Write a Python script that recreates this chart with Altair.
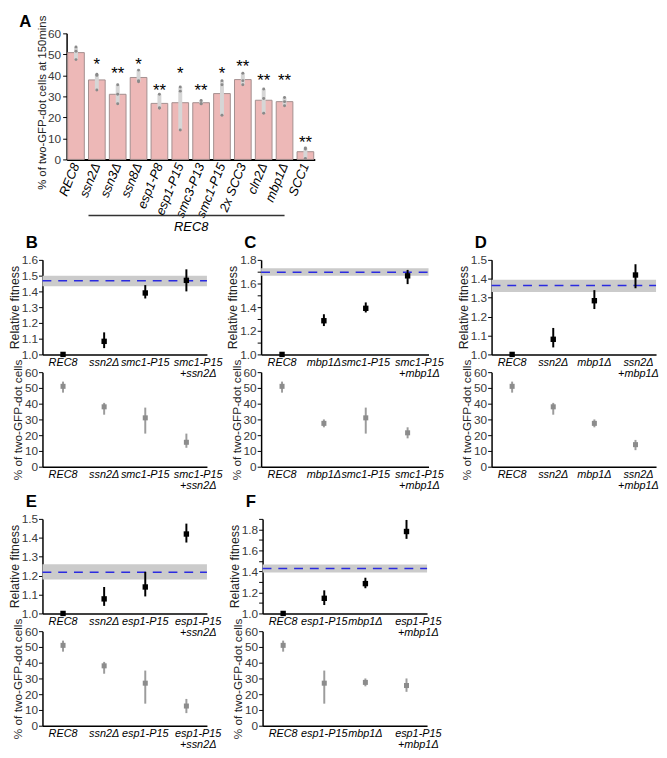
import altair as alt
import pandas as pd

FONT = "Liberation Sans"

# ---------------- Panel A data ----------------
a_strains = ["REC8", "ssn2Δ", "ssn3Δ", "ssn8Δ", "esp1-P8", "esp1-P15", "smc3-P13",
             "smc1-P15", "2x SCC3", "cln2Δ", "mbp1Δ", "SCC1"]
a_rep1 = [53.5, 40.5, 35.5, 42.5, 31.0, 34.5, 28.0, 37.5, 41.0, 33.5, 29.5, 5.5]
a_rep2 = [51.5, 40.0, 31.0, 37.5, 24.5, 32.5, 26.5, 35.5, 37.5, 29.0, 27.5, 5.0]
a_rep3 = [47.5, 33.0, 26.5, 37.0, 24.5, 14.0, 26.5, 21.0, 35.5, 22.0, 25.5, 0.5]
a_stars = ["", "*", "**", "*", "**", "*", "**", "*", "**", "**", "**", "**"]
a_star_level = [0, 47.0, 42.5, 47.0, 34.5, 42.5, 34.5, 42.5, 46.0, 39.0, 39.0, 9.5]

# ---------------- Panels B-F data ----------------
b_strains = ["REC8", "ssn2Δ", "smc1-P15", "smc1-P15|+ssn2Δ"]
b_fit = [1.0, 1.083, 1.39, 1.47]
b_fit_lo = [1.0, 1.04, 1.355, 1.40]
b_fit_hi = [1.0, 1.14, 1.44, 1.54]
b_expected = [1.467, 1.433, 1.50]
b_pct = [51.0, 38.0, 31.0, 15.5]
b_pct_lo = [47.0, 33.0, 21.0, 12.0]
b_pct_hi = [54.0, 40.5, 37.5, 21.0]

c_strains = ["REC8", "mbp1Δ", "smc1-P15", "smc1-P15|+mbp1Δ"]
c_fit = [1.0, 1.285, 1.39, 1.665]
c_fit_lo = [1.0, 1.24, 1.355, 1.595]
c_fit_hi = [1.0, 1.34, 1.44, 1.715]
c_expected = [1.695, 1.665, 1.73]
c_pct = [51.0, 27.5, 31.0, 21.5]
c_pct_lo = [47.0, 25.0, 21.0, 18.0]
c_pct_hi = [54.0, 30.0, 37.5, 25.0]

d_strains = ["REC8", "ssn2Δ", "mbp1Δ", "ssn2Δ|+mbp1Δ"]
d_fit = [1.0, 1.08, 1.284, 1.42]
d_fit_lo = [1.0, 1.037, 1.24, 1.35]
d_fit_hi = [1.0, 1.14, 1.34, 1.477]
d_expected = [1.364, 1.33, 1.395]
d_pct = [51.0, 38.0, 27.5, 14.0]
d_pct_lo = [47.0, 33.0, 25.0, 10.5]
d_pct_hi = [54.0, 40.5, 30.0, 17.0]

e_strains = ["REC8", "ssn2Δ", "esp1-P15", "esp1-P15|+ssn2Δ"]
e_fit = [1.0, 1.077, 1.14, 1.42]
e_fit_lo = [1.0, 1.04, 1.09, 1.375]
e_fit_hi = [1.0, 1.14, 1.22, 1.475]
e_expected = [1.218, 1.18, 1.26]
e_pct = [51.0, 38.0, 27.0, 12.5]
e_pct_lo = [47.0, 33.0, 14.0, 8.0]
e_pct_hi = [54.0, 40.5, 35.0, 17.0]

f_strains = ["REC8", "esp1-P15", "mbp1Δ", "esp1-P15|+mbp1Δ"]
f_fit = [1.0, 1.144, 1.284, 1.78]
f_fit_lo = [1.0, 1.08, 1.24, 1.71]
f_fit_hi = [1.0, 1.22, 1.34, 1.89]
f_expected = [1.428, 1.39, 1.465]
f_pct = [51.0, 27.0, 27.5, 25.5]
f_pct_lo = [47.0, 14.0, 25.0, 21.5]
f_pct_hi = [54.0, 35.0, 30.0, 30.0]

fit_ticks_top = {"B": 1.6, "C": 1.8, "D": 1.5, "E": 1.5, "F": 1.9}
pct_ticks = [0, 10, 20, 30, 40, 50, 60]

ONE = pd.DataFrame({"v": [0]})


def letter_layer(letter, dx, dy):
    return alt.Chart(pd.DataFrame({"t": [letter]})).mark_text(
        align="left", baseline="top", fontSize=17, fontWeight="bold", font=FONT,
        color="black").encode(text="t:N", x=alt.value(dx), y=alt.value(dy))


def extent_box(x1, x2, y1, y2):
    # invisible box used only to fix the layout extent of a panel
    return alt.Chart(ONE).mark_rect(opacity=0).encode(
        x=alt.value(x1), x2=alt.value(x2), y=alt.value(y1), y2=alt.value(y2))


# ---------------- Panel A ----------------
a_rows = []
for s, r1, r2, r3 in zip(a_strains, a_rep1, a_rep2, a_rep3):
    for r in (r1, r2, r3):
        a_rows.append({"strain": s, "value": r})
a_df = pd.DataFrame(a_rows)
a_star_df = pd.DataFrame({"strain": a_strains, "star": a_stars, "level": a_star_level})
a_star_df = a_star_df[a_star_df["star"] != ""]

a_xscale = alt.Scale(domain=a_strains, paddingInner=0.2, paddingOuter=0.05)
a_yscale = alt.Scale(domain=[0, 60], nice=False)
a_yaxis = alt.Axis(title="% of two-GFP-dot cells at 150mins", values=pct_ticks,
                   titleFontSize=11.5, domainWidth=1.5, titlePadding=0, labelPadding=2,
                   titleY=70)
a_xaxis = alt.Axis(title="REC8", titleFontStyle="italic", titleFontSize=13,
                   titleColor="black", titleBaseline="top", titleY=62,
                   labelAngle=292, labelAlign="right", labelBaseline="middle",
                   labelFontStyle="italic", labelFontSize=13, labelColor="black",
                   labelPadding=4, ticks=False, domainWidth=2)
a_x = alt.X("strain:N", scale=a_xscale, axis=a_xaxis)

bars = alt.Chart(a_df).mark_bar(color="#EDB8B7", stroke="#A38E8E", strokeWidth=1).encode(
    x=a_x, y=alt.Y("mean(value):Q", scale=a_yscale, axis=a_yaxis))
a_err = alt.Chart(a_df).mark_rule(color="#D6D6D6", strokeWidth=4).encode(
    x=a_x, y=alt.Y("min(value):Q", scale=a_yscale, axis=a_yaxis), y2="max(value):Q")
a_dots = alt.Chart(a_df).mark_circle(size=9, color="#8A8A8A", opacity=1).encode(
    x=a_x, y=alt.Y("value:Q", scale=a_yscale, axis=a_yaxis))
a_star = alt.Chart(a_star_df).mark_text(fontSize=17, font=FONT, baseline="middle", dy=4,
                                        color="black").encode(
    x=a_x, y=alt.Y("level:Q", scale=a_yscale, axis=a_yaxis), text="star:N")
a_line_df = pd.DataFrame({"strain": ["ssn2Δ"], "end": ["mbp1Δ"]})
a_line = alt.Chart(a_line_df).mark_rule(color="#333333", strokeWidth=1.5).encode(
    x=alt.X("strain:N", scale=a_xscale, axis=a_xaxis, bandPosition=0),
    x2="end:N", y=alt.value(185))

panel_a = alt.layer(bars, a_err, a_dots, a_star, a_line, letter_layer("A", -48, -19),
                    extent_box(-50, -49, 213, 214)).properties(width=252, height=128)


# ---------------- Panels B-F ----------------
def x_enc(strains, last_off):
    off = {"condition": {"test": "indexof(datum.label, '|') >= 0", "value": last_off},
           "value": 0}
    axis = alt.Axis(title=None, labelExpr="split(datum.label, '|')", labelAngle=0,
                    labelFontStyle="italic", labelFontSize=11, labelColor="black",
                    labelPadding=2, labelLineHeight=11.5, ticks=False, domainWidth=1.5,
                    labelAlign="center", labelBaseline="top", labelOffset=off)
    return alt.X("strain:N", scale=alt.Scale(domain=strains), axis=axis)


def panel(letter, strains, fit, flo, fhi, expected, pct, plo, phi, width,
          left_ext=None, right_ext=None, bottom_ext=False, last_off=12):
    df = pd.DataFrame({"strain": strains, "fit": fit, "flo": flo, "fhi": fhi,
                       "pct": pct, "plo": plo, "phi": phi})
    edf = pd.DataFrame({"exp": [expected[0]], "blo": [expected[1]], "bhi": [expected[2]]})
    top = fit_ticks_top[letter]
    n = int(round((top - 1.0) * 10))
    fticks = [round(1.0 + 0.1 * i, 1) for i in range(n + 1)]
    fscale = alt.Scale(domain=[1.0, top], nice=False, zero=False)
    faxis = alt.Axis(title="Relative fitness", values=fticks, format=".1f", domainWidth=1.5,
                     titlePadding=0, labelPadding=1)
    X = x_enc(strains, last_off)

    def fy(field):
        return alt.Y(field, scale=fscale, axis=faxis)

    band = alt.Chart(edf).mark_rect(color="#CBCBCB").encode(
        y=fy("blo:Q"), y2="bhi:Q", x=alt.value(0), x2=alt.value("width"))
    dash = alt.Chart(edf).mark_rule(color="#2B2BE0", strokeWidth=1.5, strokeDash=[9, 7]).encode(
        y=fy("exp:Q"), x=alt.value(0), x2=alt.value("width"))
    ferr = alt.Chart(df).mark_rule(color="black", strokeWidth=2).encode(
        x=X, y=fy("flo:Q"), y2="fhi:Q")
    fpt = alt.Chart(df).mark_square(size=30, color="black", opacity=1).encode(
        x=X, y=fy("fit:Q"))
    ex1 = -left_ext if left_ext is not None else 0
    ex2 = width + right_ext if right_ext is not None else 1
    fit_chart = alt.layer(band, dash, ferr, fpt, letter_layer(letter, -17, -25),
                          extent_box(ex1, ex2, -35, -34)).properties(width=width, height=96)

    pscale = alt.Scale(domain=[0, 60], nice=False)
    paxis = alt.Axis(title="% of two-GFP-dot cells", values=pct_ticks, domainWidth=1.5,
                     titlePadding=0, labelPadding=1, titleFontSize=12)

    def py(field):
        return alt.Y(field, scale=pscale, axis=paxis)

    perr = alt.Chart(df).mark_rule(color="#9C9C9C", strokeWidth=2).encode(
        x=X, y=py("plo:Q"), y2="phi:Q")
    ppt = alt.Chart(df).mark_square(size=26, color="#8C8C8C", opacity=1).encode(
        x=X, y=py("pct:Q"))
    layers = [perr, ppt]
    if bottom_ext:
        layers.append(extent_box(0, 1, 132, 133))
    pct_chart = alt.layer(*layers).properties(width=width, height=96)
    return alt.vconcat(fit_chart, pct_chart, spacing=18, bounds="flush")


pB = panel("B", b_strains, b_fit, b_fit_lo, b_fit_hi, b_expected, b_pct, b_pct_lo, b_pct_hi,
           167, right_ext=20, bottom_ext=True)
pC = panel("C", c_strains, c_fit, c_fit_lo, c_fit_hi, c_expected, c_pct, c_pct_lo, c_pct_hi,
           170, left_ext=35, right_ext=20, bottom_ext=True)
pD = panel("D", d_strains, d_fit, d_fit_lo, d_fit_hi, d_expected, d_pct, d_pct_lo, d_pct_hi,
           167, left_ext=43.5, bottom_ext=True, last_off=3)
pE = panel("E", e_strains, e_fit, e_fit_lo, e_fit_hi, e_expected, e_pct, e_pct_lo, e_pct_hi,
           167, right_ext=20)
pF = panel("F", f_strains, f_fit, f_fit_lo, f_fit_hi, f_expected, f_pct, f_pct_lo, f_pct_hi,
           167, left_ext=35)

spacer = alt.Chart(ONE).mark_point(opacity=0, size=1).encode(
    x=alt.value(0), y=alt.value(0)).properties(width=1, height=1)

top_row = alt.hconcat(spacer, panel_a, spacing=-26.5)
row2 = alt.hconcat(pB, pC, pD, spacing=0)
row3 = alt.hconcat(pE, pF, spacing=1.5)

chart = alt.vconcat(top_row, row2, row3, spacing=-19).configure_axis(
    labelFont=FONT, titleFont=FONT, grid=False, domainColor="black", tickColor="black",
    tickSize=4, labelColor="#3A3A3A", titleColor="#222222", titleFontWeight="normal",
    labelFontSize=12, titleFontSize=12.5
).configure_view(stroke=None).configure_title(font=FONT).properties(padding=0)

chart.save("out.html", embed_options={"renderer": "svg", "actions": False})
